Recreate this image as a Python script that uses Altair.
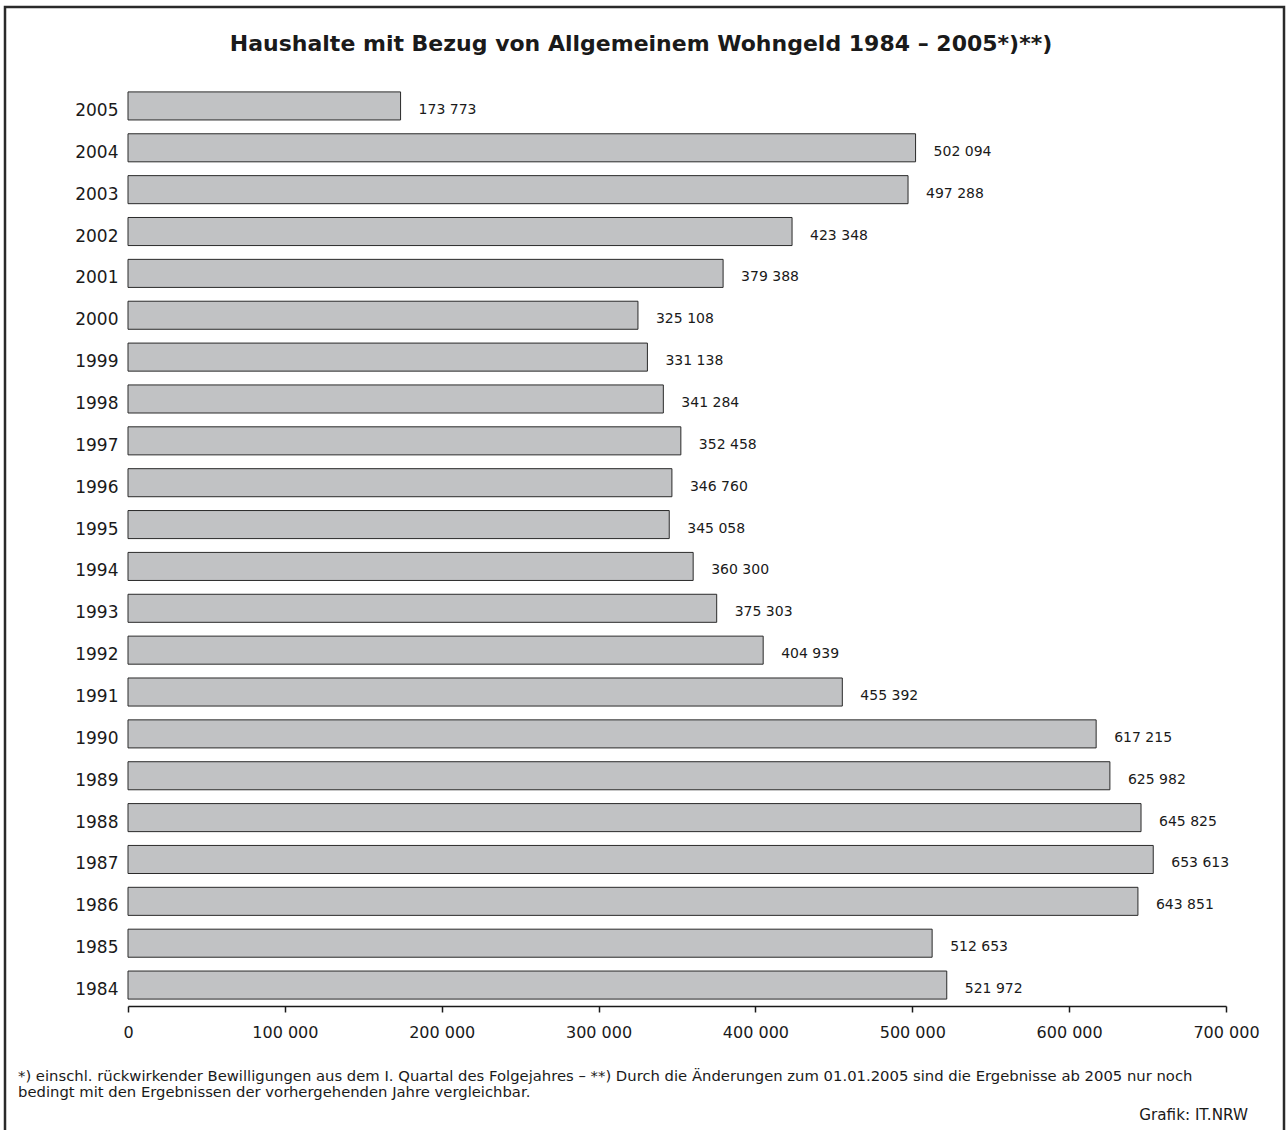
import altair as alt
import pandas as pd

years = ["2005", "2004", "2003", "2002", "2001", "2000", "1999", "1998", "1997",
         "1996", "1995", "1994", "1993", "1992", "1991", "1990", "1989", "1988",
         "1987", "1986", "1985", "1984"]
values = [173773, 502094, 497288, 423348, 379388, 325108, 331138, 341284, 352458,
          346760, 345058, 360300, 375303, 404939, 455392, 617215, 625982, 645825,
          653613, 643851, 512653, 521972]

title_text = "Haushalte mit Bezug von Allgemeinem Wohngeld 1984 – 2005*)**)"
footnote_lines = [
    "*) einschl. rückwirkender Bewilligungen aus dem I. Quartal des Folgejahres – **) Durch die Änderungen zum 01.01.2005 sind die Ergebnisse ab 2005 nur noch",
    "bedingt mit den Ergebnissen der vorhergehenden Jahre vergleichbar.",
]
source_text = "Grafik: IT.NRW"

FONT = "DejaVu Sans"
W, H = 1098, 921
LEFT, TOP = 128, 85

df = pd.DataFrame({"year": years, "value": values})

y_enc = alt.Y("year:N", sort=years, title=None,
              scale=alt.Scale(paddingInner=0.33, paddingOuter=0.165),
              axis=alt.Axis(domain=False, ticks=False, labelPadding=10, labelOffset=5,
                            labelFontSize=17, labelColor="#1a1a1a", labelFont=FONT))
x_enc = alt.X("value:Q", title=None,
              scale=alt.Scale(domain=[0, 700000], nice=False),
              axis=alt.Axis(values=[0, 100000, 200000, 300000, 400000, 500000, 600000, 700000],
                            labelExpr="replace(format(datum.value, ','), ',', ' ')",
                            grid=False, domainColor="#1a1a1a", domainWidth=1.5,
                            tickColor="#1a1a1a", tickWidth=1.5, tickSize=6,
                            labelPadding=12, labelFontSize=16, labelColor="#1a1a1a",
                            labelFont=FONT, labelFlush=False))

bars = alt.Chart(df).mark_bar(fill="#c1c2c4", stroke="#2a2a2a", strokeWidth=1).encode(
    x=x_enc, y=y_enc)

labels = alt.Chart(df).transform_calculate(
    lab="replace(format(datum.value, ','), ',', ' ')"
).mark_text(align="left", baseline="middle", dx=18, dy=4, fontSize=14, font=FONT,
            color="#1a1a1a").encode(
    x="value:Q", y=alt.Y("year:N", sort=years), text="lab:N")

title = alt.Chart(pd.DataFrame({"t": [title_text]})).mark_text(
    align="center", baseline="alphabetic", fontSize=22, fontWeight="bold",
    font=FONT, color="#1a1a1a").encode(
    x=alt.value(641 - LEFT), y=alt.value(51 - TOP), text="t:N")

foot = alt.Chart(pd.DataFrame({"t": footnote_lines, "yy": [1081 - TOP, 1097 - TOP]})).mark_text(
    align="left", baseline="alphabetic", fontSize=14.8, font=FONT, color="#1a1a1a").encode(
    x=alt.value(18 - LEFT), y=alt.Y("yy:Q", scale=None), text="t:N")

source = alt.Chart(pd.DataFrame({"t": [source_text]})).mark_text(
    align="right", baseline="alphabetic", fontSize=15.2, font=FONT, color="#1a1a1a").encode(
    x=alt.value(1248 - LEFT), y=alt.value(1120 - TOP), text="t:N")

border = alt.Chart(pd.DataFrame({"a": [0]})).mark_rect(
    fill=None, stroke="#2a2a2a", strokeWidth=2.5).encode(
    x=alt.value(5 - LEFT), x2=alt.value(1284 - LEFT),
    y=alt.value(7 - TOP), y2=alt.value(1140 - TOP))

chart = alt.layer(bars, labels, title, foot, source, border).properties(
    width=W, height=H,
    autosize=alt.AutoSizeParams(type="none"),
    padding={"left": LEFT, "top": TOP, "right": 1287 - LEFT - W, "bottom": 1130 - TOP - H},
    background="white",
).configure_view(stroke=None)

chart.save("out.html", embed_options={"renderer": "svg", "actions": False})
